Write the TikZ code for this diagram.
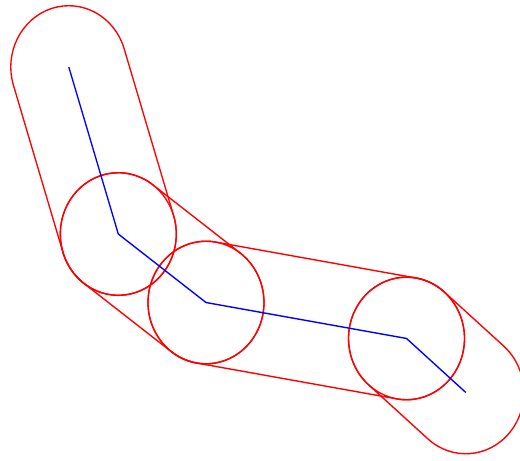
\documentclass[tikz,border=0pt]{standalone}
\usetikzlibrary{calc}
\definecolor{hullred}{RGB}{255,0,0}
\definecolor{pathblue}{RGB}{0,0,255}
\begin{document}
\begin{tikzpicture}[x=0.02cm,y=-0.02cm]
  \useasboundingbox (0,0) rectangle (520,460);
  \begin{scope}[transform canvas={yscale=1.057}]
    \coordinate (v0) at (68.8,63.4);
    \coordinate (v1) at (118.3,221.4);
    \coordinate (v2) at (206,286.2);
    \coordinate (v3) at (406.5,320.2);
    \coordinate (v4) at (465.8,371.3);
    \foreach \a/\b in {v0/v1,v1/v2,v2/v3,v3/v4}{
      \draw[hullred,line width=0.75pt] let \p1=($(\b)-(\a)$), \n1={atan2(\y1,\x1)} in
        ($(\a)+({\n1-90}:1.16cm)$) -- ($(\b)+({\n1-90}:1.16cm)$)
        arc[start angle=\n1-90,delta angle=180,radius=1.16cm]
        -- ($(\a)+({\n1+90}:1.16cm)$)
        arc[start angle=\n1+90,delta angle=180,radius=1.16cm] -- cycle;
    }
    \foreach \v in {v1,v2,v3}
      \draw[hullred,line width=0.75pt] (\v) circle (1.16cm);
    \draw[pathblue,line width=0.75pt] (v0) -- (v1) -- (v2) -- (v3) -- (v4);
  \end{scope}
\end{tikzpicture}
\end{document}
